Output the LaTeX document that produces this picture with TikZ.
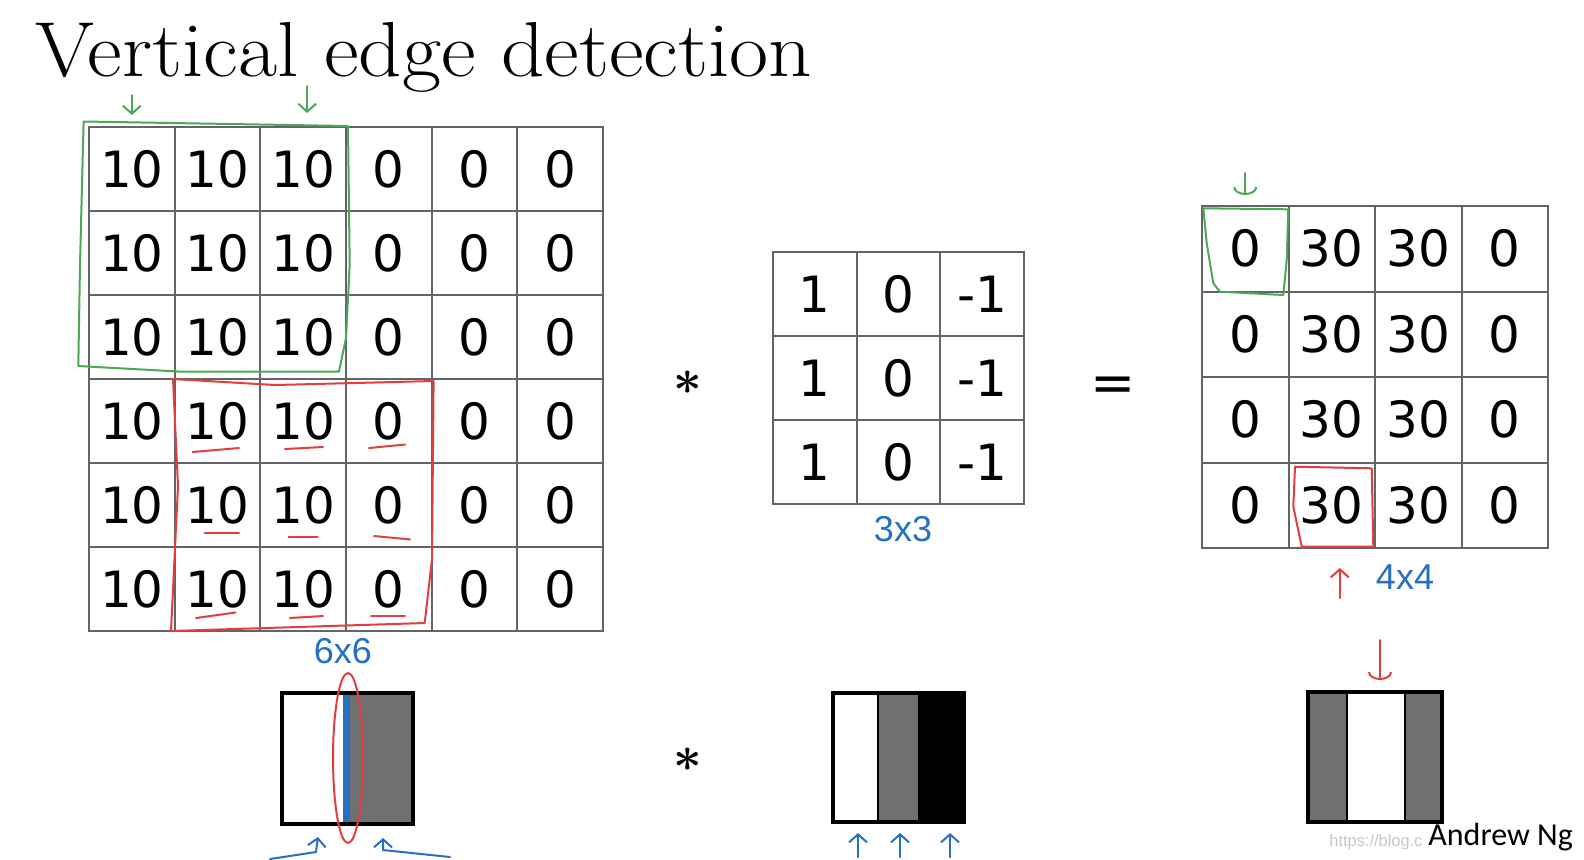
\documentclass[tikz,border=0pt]{standalone}
\usepackage{fontspec}
\usetikzlibrary{arrows.meta}
\newfontfamily\numfont{DejaVu Sans}
\newfontfamily\handfont{Liberation Sans}
\newfontfamily\namefont{Carlito}
\newfontfamily\markfont{Liberation Sans}
\definecolor{handgreen}{RGB}{76,168,84}
\definecolor{handred}{RGB}{226,62,62}
\definecolor{handblue}{RGB}{38,112,196}
\definecolor{gridgray}{RGB}{100,100,100}
\definecolor{imggray}{RGB}{112,112,112}

\begin{document}
\begin{tikzpicture}[x=0.5pt, y=-0.5pt,
    numcell/.style 2 args={draw=gridgray, line width=1pt, minimum width=#1, minimum height=#2,
      inner sep=0pt, outer sep=0pt, font=\numfont\fontsize{25}{25}\selectfont},
    hand/.style={line width=1pt, line join=round, line cap=round},
    handarrow/.style={hand, -{Straight Barb[length=4pt, width=9pt]}},
    roundarrow/.style={hand, -{Arc Barb[length=4pt, width=12pt]}},
    opsign/.style={inner sep=0pt, font=\boldmath\fontsize{31}{31}\selectfont},
    sizelabel/.style={font=\handfont\fontsize{18}{18}\selectfont, text=handblue, inner sep=0pt}]

  \useasboundingbox (0,0) rectangle (1584,859);
  \fill[white] (0,0) rectangle (1584,859);

  \node (title) [anchor=base west, inner sep=0pt, xscale=1.09,
    font=\fontsize{39}{40}\selectfont\addfontfeatures{FakeBold=0.5}]
    at (35,76) {Vertical edge detection};

  % 6x6 input
  \foreach \vals [count=\r] in {{10,10,10,0,0,0},{10,10,10,0,0,0},{10,10,10,0,0,0},
                                {10,10,10,0,0,0},{10,10,10,0,0,0},{10,10,10,0,0,0}}
    \foreach \v [count=\c] in \vals
      \node (in-\r-\c) [numcell={42.83pt}{42pt}] at ({89+(\c-0.5)*85.67},{127+(\r-0.5)*84}) {\v};

  % 3x3 filter
  \foreach \vals [count=\r] in {{1,0,-1},{1,0,-1},{1,0,-1}}
    \foreach \v [count=\c] in \vals
      \node (flt-\r-\c) [numcell={41.83pt}{42pt}] at ({773+(\c-0.5)*83.67},{252+(\r-0.5)*84}) {\v};

  % 4x4 output
  \foreach \vals [count=\r] in {{0,30,30,0},{0,30,30,0},{0,30,30,0},{0,30,30,0}}
    \foreach \v [count=\c] in \vals
      \node (out-\r-\c) [numcell={43.25pt}{42.75pt}] at ({1202+(\c-0.5)*86.5},{206+(\r-0.5)*85.5}) {\v};

  \node (conv) [opsign] at (688,383) {$\ast$};
  \node (eq) [inner sep=0pt, font=\numfont\fontsize{27}{27}\selectfont] at (1113,389) {=};

  \node (size-in) [sizelabel] at (343,651) {6x6};
  \node (size-flt) [sizelabel] at (903,529) {3x3};
  \node (size-out) [sizelabel] at (1405,577) {4x4};

  % hand marks
  \draw[hand, handgreen] (83.6,121.5) -- (348,126) -- (349.7,265) -- (346,338) -- (339,371.5)
    -- (178,371.5) -- (78.3,366) -- (80,265) -- cycle;
  \draw[hand, handred] (173,379) -- (275,385) -- (433.6,381) -- (432,559) -- (424.7,623)
    -- (171,631) -- (178,486) -- cycle;
  \foreach \xa/\ya/\xb/\yb in {192.7/452/239/448, 285/449/323/447, 369/448/405/444.5,
      204.7/533/239/533, 288.6/537/317.7/537, 374/536/410/539.4,
      196/618/235.5/612.5, 290/618/323/616, 371/616/405/616}
    \draw[hand, handred] (\xa,\ya) -- (\xb,\yb);
  \draw[hand, handgreen] (1203.3,208.3) -- (1288.3,209.3) -- (1286.7,260) -- (1283.3,295)
    -- (1220,291.7) -- (1213.3,283.3) -- (1206.7,243.3) -- cycle;
  \draw[hand, handred] (1295,466.7) -- (1371.7,468.3) -- (1373.3,546.7) -- (1301.7,546.7)
    -- (1293.3,506.7) -- cycle;

  \draw[handarrow, handgreen] ([yshift=16pt]in-1-1.north) -- ++(0,20);
  \draw[handarrow, handgreen] ([xshift=2pt, yshift=20.5pt]in-1-3.north) -- ++(0,27);
  \draw[roundarrow, handgreen] ([yshift=16.5pt]out-1-1.north) -- ++(0,22);
  \draw[handarrow, handred] ([xshift=4pt, yshift=-25pt]out-4-2.south) -- ++(0,-30);

  % images
  \fill[imggray] (350,693) rectangle (413,824);
  \fill[handblue] (343,693) rectangle (350,824);
  \draw[line width=2pt] (282,693) rectangle (413,824);
  \draw[hand, handred] (348,758) ellipse [x radius=7.5pt, y radius=42.5pt];

  \node (conv-img) [opsign] at (688,760) {$\ast$};

  \fill[imggray] (878,693) rectangle (918,822);
  \fill[black] (918,693) rectangle (964,822);
  \draw[line width=1pt] (878,693) -- (878,822);
  \draw[line width=2pt] (833,693) rectangle (964,822);

  \fill[imggray] (1308,692) rectangle (1347,822);
  \fill[imggray] (1405,692) rectangle (1442,822);
  \draw[line width=1.2pt] (1347,692) -- (1347,822) (1405,692) -- (1405,822);
  \draw[line width=2pt] (1308,692) rectangle (1442,822);

  \draw[handarrow, handblue] (270,859) -- (316,852) -- (318,837);
  \draw[handarrow, handblue] (450,857) -- (383,850) -- (383,838);
  \foreach \x in {858,900,950}
    \draw[handarrow, handblue] (\x,857) -- (\x,833);
  \draw[roundarrow, handred] (1380,640) -- (1380,680);

  \node (mark) [anchor=base west, inner sep=0pt, text=black!22, font=\markfont\fontsize{8.2}{9}\selectfont]
    at (1329,846) {https://blog.c};
  \node (author) [anchor=west, inner sep=0pt, font=\namefont\fontsize{16}{16}\selectfont] at (1428,837) {Andrew Ng};
\end{tikzpicture}
\end{document}
